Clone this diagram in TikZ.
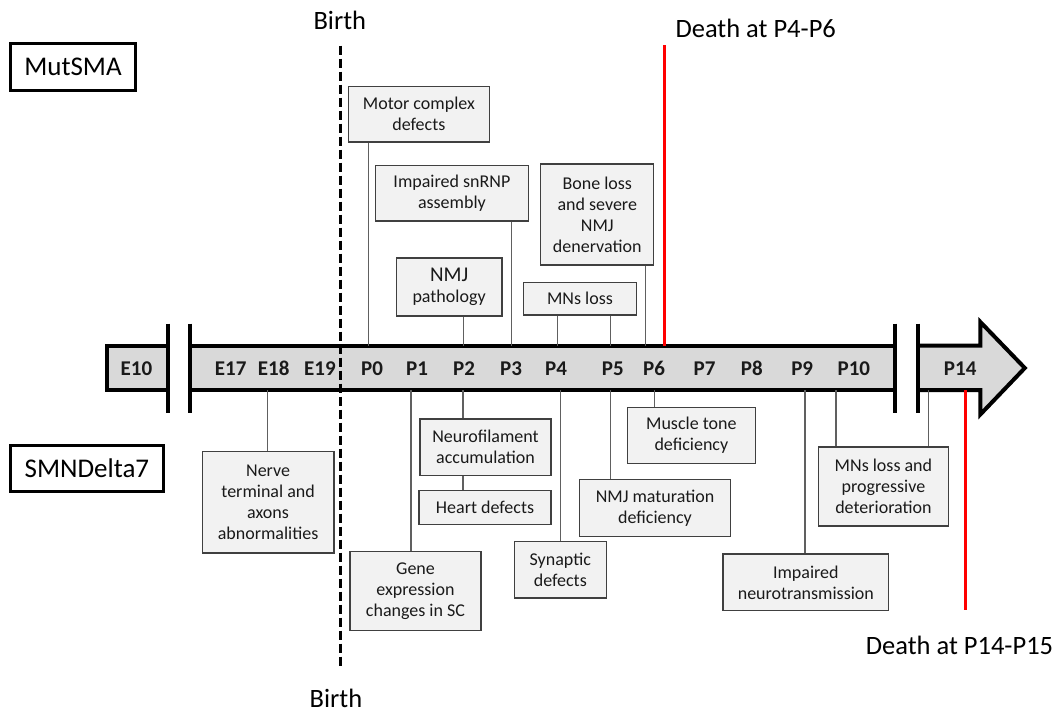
\documentclass[tikz,border=0pt]{standalone}
\usepackage{fontspec}
\setmainfont{Carlito}
\begin{document}
\begin{tikzpicture}[x=1pt,y=-1pt,
  evbox/.style={draw=boxline, fill=boxfill, line width=1.2pt, align=center, inner sep=0pt, text=txt, font=\fontsize{18}{21}\selectfont},
  strainbox/.style={draw=black, fill=white, line width=3pt, inner sep=0pt, font=\fontsize{27}{30}\selectfont},
  bigtext/.style={inner sep=0pt, anchor=base, font=\fontsize{26.5}{30}\selectfont},
  axlabel/.style={inner sep=0pt, anchor=base, font=\fontsize{21}{24}\selectfont\bfseries, text=txt},
  conn/.style={draw=connline, line width=1.2pt},
  barline/.style={draw=black, line width=4pt},
  deathline/.style={draw=red, line width=3pt},
  birthline/.style={draw=black, line width=2.2pt, dash pattern=on 9pt off 4pt}
]
\definecolor{boxline}{HTML}{404040}
\definecolor{boxfill}{HTML}{F2F2F2}
\definecolor{connline}{HTML}{606060}
\definecolor{barfill}{HTML}{D9D9D9}
\definecolor{txt}{HTML}{1A1A1A}
\useasboundingbox (0,0) rectangle (1057,713);

% ---- timeline bar ----
\fill[barfill] (106.5,345.6) rectangle (168,390);
\draw[barline, line join=miter] (168,345.6) -- (106.5,345.6) -- (106.5,390) -- (168,390);
\fill[barfill] (190.3,345.6) rectangle (894.7,390);
\draw[barline] (190.3,345.6) -- (894.7,345.6);
\draw[barline] (190.3,390) -- (894.7,390);
\filldraw[barline, fill=barfill, line join=miter] (918.2,345.6) -- (980.4,345.6) -- (980.4,322) -- (1024.8,368) -- (980.4,414.4) -- (980.4,390) -- (918.2,390);
\foreach \bx in {168,190.3,894.7,918.2} \draw[barline] (\bx,323.7) -- (\bx,413);

% ---- axis labels ----
\node[axlabel] (e10) at (136.4,375) {E10};
\node[axlabel] (e17) at (230.7,375) {E17};
\node[axlabel] (e18) at (273.7,375) {E18};
\node[axlabel] (e19) at (320,375) {E19};
\node[axlabel] (p0) at (372,375) {P0};
\node[axlabel] (p1) at (417,375) {P1};
\node[axlabel] (p2) at (464,375) {P2};
\node[axlabel] (p3) at (511,375) {P3};
\node[axlabel] (p4) at (556,375) {P4};
\node[axlabel] (p5) at (612.9,375) {P5};
\node[axlabel] (p6) at (654,375) {P6};
\node[axlabel] (p7) at (704.6,375) {P7};
\node[axlabel] (p8) at (751.8,375) {P8};
\node[axlabel] (p9) at (802.2,375) {P9};
\node[axlabel] (p10) at (853.9,375) {P10};
\node[axlabel] (p14) at (960.2,375) {P14};

% ---- strain labels and headings ----
\node[strainbox, minimum width=124.4pt, minimum height=46.4pt] (mut) at (73,67) {MutSMA};
\node[strainbox, minimum width=152.2pt, minimum height=46pt] (smn) at (86.9,468.5) {SMNDelta7};
\node[bigtext] (birthtop) at (339.8,29.5) {Birth};
\node[bigtext] (birthbot) at (336,707) {Birth};
\node[bigtext] (death1) at (755.7,37) {Death at P4-P6};
\node[bigtext] (death2) at (959.5,654) {Death at P14-P15};

% ---- upper event boxes ----
\node[evbox, minimum width=141.3pt, minimum height=55.5pt] (motor) at (418.9,114.2) {Motor complex\\defects};
\node[evbox, minimum width=153pt, minimum height=55.4pt] (snrnp) at (451.9,193.3) {Impaired snRNP\\assembly};
\node[evbox, minimum width=105.8pt, minimum height=58pt] (nmjp) at (449.1,287) {{\fontsize{21}{24}\selectfont NMJ}\\pathology};
\node[evbox, minimum width=112.9pt, minimum height=100.9pt] (bone) at (597.25,214.45) {Bone loss\\and severe\\NMJ\\denervation};
\node[evbox, minimum width=113.4pt, minimum height=32.7pt] (mnl) at (580,298.65) {MNs loss};

% ---- lower event boxes ----
\node[evbox, minimum width=131.8pt, minimum height=101.5pt] (nerve) at (268.1,502.25) {Nerve\\terminal and\\axons\\abnormalities};
\node[evbox, minimum width=131pt, minimum height=79pt] (gene) at (415.5,591) {Gene\\expression\\changes in SC};
\node[evbox, minimum width=131pt, minimum height=56.5pt] (neuro) at (485.5,447.25) {Neurofilament\\accumulation};
\node[evbox, minimum width=132pt, minimum height=34pt] (heart) at (485,507.5) {Heart defects};
\node[evbox, minimum width=92pt, minimum height=56.5pt] (syn) at (560.3,569.75) {Synaptic\\defects};
\node[evbox, minimum width=127.7pt, minimum height=55.8pt] (muscle) at (691.35,435.3) {Muscle tone\\deficiency};
\node[evbox, minimum width=150.6pt, minimum height=56.4pt] (nmjm) at (655,507.9) {NMJ maturation\\deficiency};
\node[evbox, minimum width=165.7pt, minimum height=56.8pt] (neurotx) at (805.85,582.4) {Impaired\\neurotransmission};
\node[evbox, minimum width=130.1pt, minimum height=79pt] (mnprog) at (883.45,486.5) {MNs loss and\\progressive\\deterioration};

% ---- connector anchor points on the bar ----
\coordinate (tMotor) at (368.5,345.6);
\coordinate (tSnrnp) at (511.5,345.6);
\coordinate (tNmjp) at (463.8,345.6);
\coordinate (tBone) at (645.3,345.6);
\coordinate (tMnlA) at (557.6,345.6);
\coordinate (tMnlB) at (610.7,345.6);
\coordinate (bNerve) at (267.7,390);
\coordinate (bGene) at (411,390);
\coordinate (bNeuro) at (463,390);
\coordinate (bSyn) at (560.3,390);
\coordinate (bMuscle) at (654.4,390);
\coordinate (bNmjm) at (610.7,390);
\coordinate (bNeurotx) at (805,390);
\coordinate (bProgA) at (835.9,390);
\coordinate (bProgB) at (928.3,390);

\draw[conn] (motor.south -| tMotor) -- (tMotor);
\draw[conn] (snrnp.south -| tSnrnp) -- (tSnrnp);
\draw[conn] (nmjp.south -| tNmjp) -- (tNmjp);
\draw[conn] (bone.south -| tBone) -- (tBone);
\draw[conn] (mnl.south -| tMnlA) -- (tMnlA);
\draw[conn] (mnl.south -| tMnlB) -- (tMnlB);
\draw[conn] (bNerve) -- (nerve.north -| bNerve);
\draw[conn] (bGene) -- (gene.north -| bGene);
\draw[conn] (bNeuro) -- (neuro.north -| bNeuro);
\draw[conn] (neuro.south -| bNeuro) -- (heart.north -| bNeuro);
\draw[conn] (bSyn) -- (syn.north -| bSyn);
\draw[conn] (bMuscle) -- (muscle.north -| bMuscle);
\draw[conn] (bNmjm) -- (nmjm.north -| bNmjm);
\draw[conn] (bNeurotx) -- (neurotx.north -| bNeurotx);
\draw[conn] (bProgA) -- (mnprog.north -| bProgA);
\draw[conn] (bProgB) -- (mnprog.north -| bProgB);

% ---- birth and death markers ----
\coordinate (birthA) at (340.4,45.5);
\coordinate (birthB) at (340.4,666);
\draw[birthline] (birthA) -- (birthB);
\coordinate (deathA) at (664.5,45.4);
\coordinate (deathB) at (664.5,345.6);
\draw[deathline] (deathA) -- (deathB);
\coordinate (deathC) at (965.3,390);
\coordinate (deathD) at (965.3,610);
\draw[deathline] (deathC) -- (deathD);
\end{tikzpicture}
\end{document}
